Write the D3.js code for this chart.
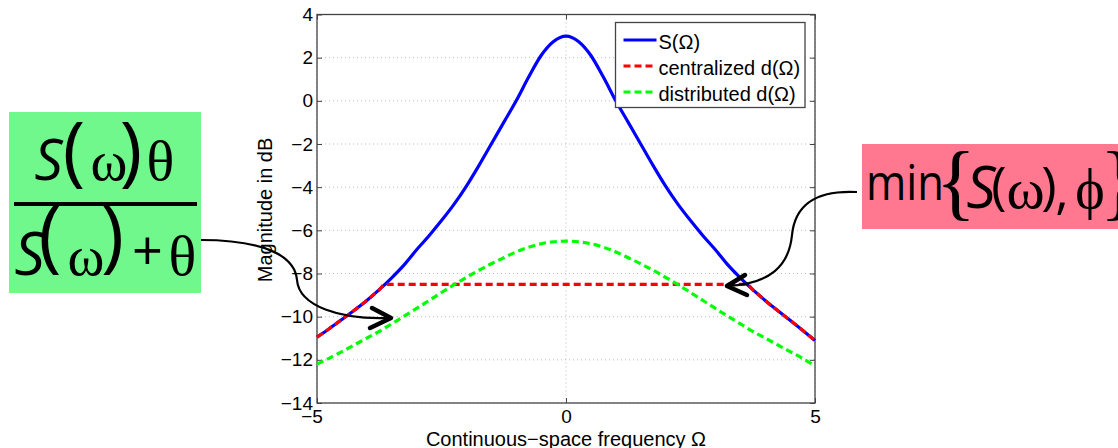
<!DOCTYPE html>
<html>
<head>
<meta charset="utf-8">
<script src="https://cdn.jsdelivr.net/npm/d3@7"></script>
<style>
  body { margin: 0; background: #fff; }
  svg { display: block; }
  .tick text { font-family: "Liberation Sans", Arial, sans-serif; font-size: 19px; fill: #000; }
</style>
</head>
<body>
<svg id="chart"></svg>
<script>
// frequency grid (Omega) and curves
const omega = [-5, -4.75, -4.5, -4.25, -4, -3.75, -3.5, -3.25, -3, -2.75, -2.5, -2.25, -2, -1.75, -1.5, -1.25, -1, -0.75, -0.5, -0.25,
  0, 0.25, 0.5, 0.75, 1, 1.25, 1.5, 1.75, 2, 2.25, 2.5, 2.75, 3, 3.25, 3.5, 3.75, 4, 4.25, 4.5, 4.75, 5];

const sValues = [-10.95, -10.55, -10.13, -9.7, -9.25, -8.75, -8.2, -7.6, -6.9, -6.25, -5.55, -4.8, -3.95, -3.0, -2.0, -1.0, 0.0, 1.1, 2.1, 2.75,
  3.0, 2.75, 2.1, 1.1, 0.0, -1.0, -2.0, -3.0, -3.95, -4.8, -5.55, -6.25, -6.9, -7.6, -8.2, -8.75, -9.25, -9.72, -10.17, -10.63, -11.1];

const distValues = [-12.2, -11.92, -11.62, -11.31, -10.99, -10.68, -10.33, -9.98, -9.62, -9.25, -8.88, -8.52, -8.18, -7.85, -7.55, -7.27, -7.0, -6.78, -6.62, -6.53,
  -6.5, -6.53, -6.62, -6.78, -7.0, -7.27, -7.55, -7.85, -8.18, -8.52, -8.88, -9.25, -9.62, -9.98, -10.33, -10.68, -10.99, -11.31, -11.62, -11.93, -12.28];

const centralOmega = [-5, -4.75, -4.5, -4.25, -4, -3.75, -3.63, 3.63, 3.75, 4, 4.25, 4.5, 4.75, 5];
const centralValues = [-10.95, -10.55, -10.13, -9.7, -9.25, -8.75, -8.5, -8.5, -8.75, -9.25, -9.72, -10.17, -10.63, -11.1];

const xTicks = [-5, 0, 5];
const yTicks = [-14, -12, -10, -8, -6, -4, -2, 0, 2, 4];

const seriesNames = ["S(\u03A9)", "centralized d(\u03A9)", "distributed d(\u03A9)"];
const seriesColors = ["#0000ff", "#ff0000", "#00ff00"];

const W = 1118, H = 448;
const margin = { top: 14.5, left: 317, right: W - 815, bottom: H - 403 };
const width = W - margin.left - margin.right;
const height = H - margin.top - margin.bottom;

const svg = d3.select("#chart").attr("width", W).attr("height", H);

const g = svg.append("g")
  .attr("transform", `translate(${margin.left},${margin.top})`);

const x = d3.scaleLinear().domain([-5, 5]).range([0, width]);
const y = d3.scaleLinear().domain([-14, 4]).range([height, 0]);

const fmt = d => d < 0 ? "\u2212" + Math.abs(d) : String(d);

// dotted grid
g.selectAll(".hgrid").data(yTicks).enter().append("line")
  .attr("x1", 0).attr("x2", width)
  .attr("y1", d => y(d)).attr("y2", d => y(d))
  .attr("stroke", "#bdbdbd").attr("stroke-width", 1).attr("stroke-dasharray", "1,3");
g.selectAll(".vgrid").data(xTicks).enter().append("line")
  .attr("x1", d => x(d)).attr("x2", d => x(d))
  .attr("y1", 0).attr("y2", height)
  .attr("stroke", "#bdbdbd").attr("stroke-width", 1).attr("stroke-dasharray", "1,3");

// axes, ticks inside on all four sides
const axisColor = "#444";
g.append("g").attr("transform", `translate(0,${height})`)
  .call(d3.axisBottom(x).tickValues(xTicks).tickFormat(fmt).tickSize(-5).tickPadding(7))
  .call(a => a.select(".domain").remove())
  // digit centred on the tick, minus sign hangs to the left
  .call(a => a.selectAll(".tick text").attr("dx", d => d < 0 ? -5.5 : 0));
g.append("g").call(d3.axisTop(x).tickValues(xTicks).tickFormat("").tickSize(-5))
  .call(a => a.select(".domain").remove());
g.append("g")
  .call(d3.axisLeft(y).tickValues(yTicks).tickFormat(fmt).tickSize(-5).tickPadding(4))
  .call(a => a.select(".domain").remove());
g.append("g").attr("transform", `translate(${width},0)`)
  .call(d3.axisRight(y).tickValues(yTicks).tickFormat("").tickSize(-5))
  .call(a => a.select(".domain").remove());
g.selectAll(".tick line").attr("stroke", axisColor);

g.append("rect")
  .attr("width", width).attr("height", height)
  .attr("fill", "none").attr("stroke", axisColor).attr("stroke-width", 1.3);

// curves
const line = d3.line()
  .x(d => x(d[0]))
  .y(d => y(d[1]))
  .curve(d3.curveMonotoneX);

g.append("path")
  .attr("d", line(omega.map((o, i) => [o, sValues[i]])))
  .attr("fill", "none").attr("stroke", seriesColors[0]).attr("stroke-width", 3.2);

g.append("path")
  .attr("d", line(centralOmega.map((o, i) => [o, centralValues[i]])))
  .attr("fill", "none").attr("stroke", seriesColors[1]).attr("stroke-width", 3.2)
  .attr("stroke-dasharray", "7,4");

g.append("path")
  .attr("d", line(omega.map((o, i) => [o, distValues[i]])))
  .attr("fill", "none").attr("stroke", seriesColors[2]).attr("stroke-width", 3.2)
  .attr("stroke-dasharray", "7,4");

// axis labels
svg.append("text")
  .attr("x", 566).attr("y", 446)
  .attr("text-anchor", "middle")
  .style("font-family", "Liberation Sans, Arial, sans-serif").style("font-size", "20px")
  .text("Continuous\u2212space frequency \u03A9");

svg.append("text")
  .attr("transform", "rotate(-90)")
  .attr("x", -210).attr("y", 272)
  .attr("text-anchor", "middle")
  .style("font-family", "Liberation Sans, Arial, sans-serif").style("font-size", "20px")
  .text("Magnitude in dB");

// legend
const legend = svg.append("g").attr("transform", "translate(615.5,22.5)");
legend.append("rect")
  .attr("width", 189.5).attr("height", 85)
  .attr("fill", "#fff").attr("stroke", axisColor).attr("stroke-width", 1.3);

const item = legend.selectAll(".legend").data(seriesNames).enter().append("g")
  .attr("transform", (d, i) => `translate(0,${17.5 + i * 26})`);
item.append("line")
  .attr("x1", 8).attr("x2", 41)
  .attr("stroke", (d, i) => seriesColors[i]).attr("stroke-width", 3.2)
  .attr("stroke-dasharray", (d, i) => i === 0 ? null : "7,4");
item.append("text")
  .attr("x", 43).attr("y", 8.5)
  .style("font-family", "Liberation Sans, Arial, sans-serif").style("font-size", "20px")
  .text(d => d);

// annotation boxes
const sans = "Open Sans, Lato, sans-serif";
const serif = "Liberation Serif, DejaVu Serif, serif";

function glyph(parent, txt, cx, base, size, family, italic) {
  return parent.append("text")
    .attr("x", cx).attr("y", base)
    .attr("text-anchor", "middle")
    .style("font-family", family).style("font-size", size + "px")
    .style("font-style", italic ? "italic" : "normal")
    .text(txt);
}

const left = svg.append("g");
left.append("rect").attr("x", 9).attr("y", 112).attr("width", 192).attr("height", 181).attr("fill", "#70f88c");
glyph(left, "S", 48.5, 180, 56, sans, true);
glyph(left, "(", 74, 177, 76, sans, false);
glyph(left, "\u03C9", 109, 180, 56, serif, false);
glyph(left, ")", 131, 177, 76, sans, false);
glyph(left, "\u03B8", 160.5, 180, 58, serif, false);
left.append("rect").attr("x", 14).attr("y", 202).attr("width", 183).attr("height", 4).attr("fill", "#000");
glyph(left, "S", 29.5, 275, 60, sans, true);
glyph(left, "(", 50, 263, 78, sans, false);
glyph(left, "\u03C9", 86, 275, 56, serif, false);
glyph(left, ")", 112.5, 263, 78, sans, false);
glyph(left, "+", 147.5, 270, 54, sans, false);
glyph(left, "\u03B8", 182.5, 275, 58, serif, false);

const right = svg.append("g");
right.append("rect").attr("x", 862).attr("y", 144).attr("width", 260).attr("height", 85).attr("fill", "#ff788f");
glyph(right, "min", 905, 200, 50, sans, false).attr("textLength", 78).attr("lengthAdjust", "spacingAndGlyphs");
glyph(right, "{", 956, 210, 84, serif, false);
glyph(right, "S", 981, 208, 58, sans, true);
glyph(right, "(", 999, 204, 52, sans, false);
glyph(right, "\u03C9", 1025.5, 208, 58, serif, false);
glyph(right, ")", 1049, 204, 52, sans, false);
glyph(right, ",", 1062, 208, 52, sans, false);
glyph(right, "\u03D5", 1090, 208, 56, serif, false);
glyph(right, "}", 1120, 210, 84, serif, false);

// curved arrows
svg.append("path")
  .attr("d", "M201,240 C262,240 295,255 297,280 C299,306 340,320 390,318")
  .attr("fill", "none").attr("stroke", "#000").attr("stroke-width", 2.2);
svg.append("path")
  .attr("d", "M372,308 L391,318 L370,328")
  .attr("fill", "none").attr("stroke", "#000").attr("stroke-width", 4.5)
  .attr("stroke-linecap", "round").attr("stroke-linejoin", "round");

svg.append("path")
  .attr("d", "M857,192 C815,190 795,205 792,235 C789,266 770,284 727,286")
  .attr("fill", "none").attr("stroke", "#000").attr("stroke-width", 2.2);
svg.append("path")
  .attr("d", "M745,275 L727,286 L747,295")
  .attr("fill", "none").attr("stroke", "#000").attr("stroke-width", 4.5)
  .attr("stroke-linecap", "round").attr("stroke-linejoin", "round");
</script>
</body>
</html>
